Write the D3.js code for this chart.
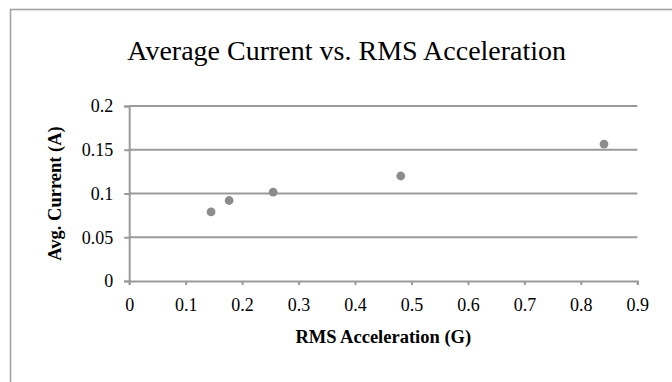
<!DOCTYPE html>
<html>
<head>
<meta charset="utf-8">
<script src="https://cdn.jsdelivr.net/npm/d3@7"></script>
<style>
  body { margin: 0; background: #fff; }
  svg { display: block; }
</style>
</head>
<body>
<svg id="chart" width="672" height="382"></svg>
<script>
// data
const accel = [0.145, 0.177, 0.255, 0.481, 0.841];      // RMS Acceleration (G)
const current = [0.079, 0.092, 0.1015, 0.12, 0.1565];   // Avg. Current (A)
const xTicks = [0, 0.1, 0.2, 0.3, 0.4, 0.5, 0.6, 0.7, 0.8, 0.9];
const yTicks = [0, 0.05, 0.1, 0.15, 0.2];

const width = 672, height = 382;
const margin = { top: 106, right: 34.7, bottom: 101, left: 129.2 };
const grey = "#9a9a9a";
const serif = "'Liberation Serif', 'Times New Roman', serif";

const svg = d3.select("#chart");

// outer chart frame (runs past the right and bottom edges)
svg.append("rect")
  .attr("x", 10.5).attr("y", 9.5)
  .attr("width", 700).attr("height", 400)
  .attr("fill", "#fff")
  .attr("stroke", "#a3a3a3")
  .attr("stroke-width", 1.6);

const x = d3.scaleLinear().domain([0, 0.9]).range([margin.left, width - margin.right]);
const y = d3.scaleLinear().domain([0, 0.2]).range([height - margin.bottom, margin.top]);

// horizontal gridlines
svg.append("g")
  .selectAll("line")
  .data(yTicks.filter(d => d > 0))
  .join("line")
  .attr("x1", x(0)).attr("x2", x(0.9))
  .attr("y1", d => y(d)).attr("y2", d => y(d))
  .attr("stroke", grey)
  .attr("stroke-width", 2);

// y axis
const yAxis = svg.append("g")
  .attr("transform", `translate(${x(0)},0)`)
  .call(d3.axisLeft(y).tickValues(yTicks).tickSize(5).tickPadding(11).tickFormat(d => String(d)));

// x axis
const xAxis = svg.append("g")
  .attr("transform", `translate(0,${y(0)})`)
  .call(d3.axisBottom(x).tickValues(xTicks).tickSize(4).tickPadding(13).tickFormat(d => String(d)));

[yAxis, xAxis].forEach(g => {
  g.attr("font-family", serif).attr("font-size", 18);
  g.select(".domain").attr("stroke", grey).attr("stroke-width", 2);
  g.selectAll(".tick line").attr("stroke", grey).attr("stroke-width", 2);
  g.selectAll(".tick text").attr("fill", "#000");
});

// points
svg.append("g")
  .selectAll("circle")
  .data(accel.map((a, i) => ({ a, c: current[i] })))
  .join("circle")
  .attr("cx", d => x(d.a))
  .attr("cy", d => y(d.c))
  .attr("r", 4.4)
  .attr("fill", "#8c8c8c");

// title
svg.append("text")
  .attr("x", 346.7).attr("y", 60)
  .attr("text-anchor", "middle")
  .attr("font-family", serif)
  .attr("font-size", 28)
  .text("Average Current vs. RMS Acceleration");

// axis titles
svg.append("text")
  .attr("x", (x(0) + x(0.9)) / 2).attr("y", 343.3)
  .attr("text-anchor", "middle")
  .attr("font-family", serif)
  .attr("font-weight", "bold")
  .attr("font-size", 18.5)
  .text("RMS Acceleration (G)");

svg.append("text")
  .attr("transform", `translate(61,${(y(0) + y(0.2)) / 2}) rotate(-90)`)
  .attr("text-anchor", "middle")
  .attr("font-family", serif)
  .attr("font-weight", "bold")
  .attr("font-size", 18.5)
  .text("Avg. Current (A)");
</script>
</body>
</html>
